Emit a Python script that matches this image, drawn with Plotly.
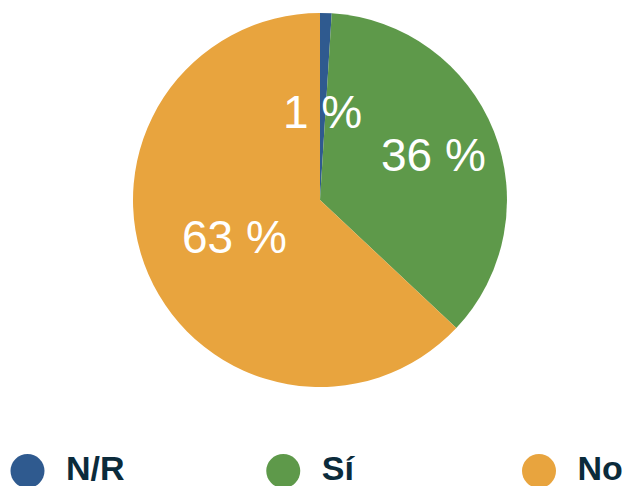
import math
import plotly.graph_objects as go

labels = ["N/R", "Sí", "No"]
values = [1, 36, 63]
text_labels = ["1 %", "36 %", "63 %"]
colors = ["#2f5a8f", "#5e994a", "#e8a43e"]
label_radius = [0.47, 0.65, 0.5]  # style: radial placement of labels (fraction of radius)

W, H = 625, 486
cx_px, cy_px, R_px = 320, 200, 187

fig = go.Figure()
fig.add_trace(go.Pie(
    labels=labels, values=values, sort=False, direction="clockwise", rotation=0,
    marker=dict(colors=colors, line=dict(width=0)),
    textinfo="none", hoverinfo="label+percent", showlegend=False,
    domain=dict(x=[(cx_px - R_px) / W, (cx_px + R_px) / W],
                y=[1 - (cy_px + R_px) / H, 1 - (cy_px - R_px) / H]),
))

# slice labels placed at mid-angle of each slice, computed from the data
total = sum(values)
cum = 0
for v, t, rf in zip(values, text_labels, label_radius):
    mid = (cum + v / 2) / total * 2 * math.pi
    cum += v
    x_px = cx_px + rf * R_px * math.sin(mid)
    y_px = cy_px - rf * R_px * math.cos(mid)
    fig.add_annotation(x=x_px / W, y=1 - y_px / H, xref="paper", yref="paper",
                       text=t, showarrow=False, xanchor="center", yanchor="middle",
                       font=dict(family="Liberation Sans", size=46, color="white"))

# legend row: circle markers with bold labels
fig.add_trace(go.Scatter(
    x=labels, y=[0, 0, 0], mode="markers+text",
    marker=dict(size=34, color=colors, symbol="circle"),
    text=[" \u2009" + l for l in labels], textposition="middle right",
    textfont=dict(family="Liberation Sans", size=34, color="#0b2b3b", weight="bold"),
    showlegend=False, hoverinfo="skip", cliponaxis=False,
))

x0_px, x2_px = 27.5, 539
scale = (x2_px - x0_px) / 2
r0 = -x0_px / scale
r1 = r0 + W / scale
y_leg = 1 - 471 / H

fig.update_layout(
    width=W, height=H, margin=dict(l=0, r=0, t=0, b=0),
    paper_bgcolor="white", plot_bgcolor="rgba(0,0,0,0)",
    xaxis=dict(visible=False, range=[r0, r1], domain=[0, 1], fixedrange=True),
    yaxis=dict(visible=False, range=[-1, 1], domain=[0, 2 * y_leg], fixedrange=True),
    showlegend=False,
)

fig.write_html("out.html", config={"displayModeBar": False},
               post_script="document.body.style.margin='0';document.body.style.overflow='hidden';")
